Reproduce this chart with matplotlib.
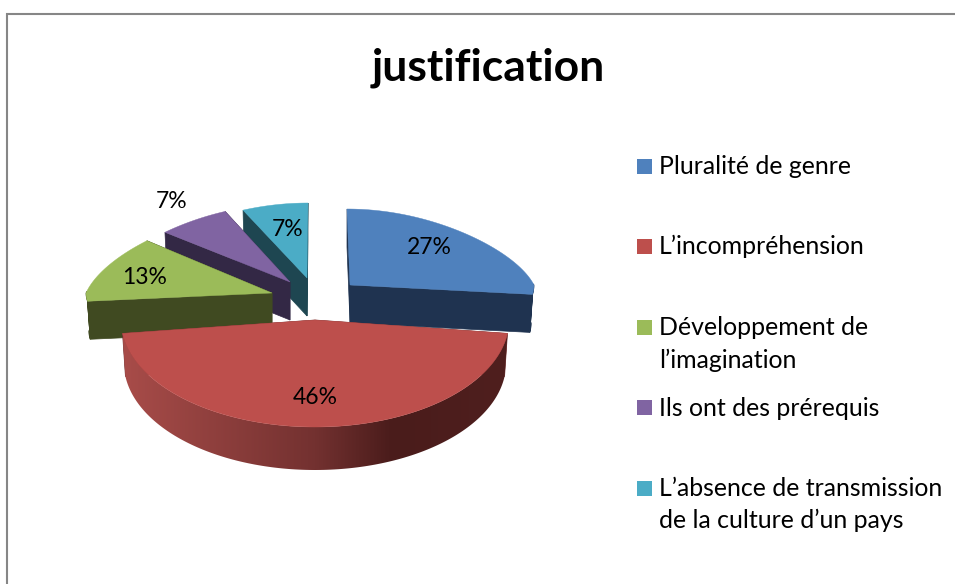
import numpy as np
import matplotlib
matplotlib.use("Agg")
import matplotlib.pyplot as plt
from matplotlib.colors import LinearSegmentedColormap
from matplotlib.patches import Polygon

plt.rcParams["font.family"] = ["Lato", "DejaVu Sans"]

title = "justification"
categories = [
    "Pluralité de genre",
    "L’incompréhension",
    "Développement de\nl’imagination",
    "Ils ont des prérequis",
    "L’absence de transmission\nde la culture d’un pays",
]
shares = [27, 46, 13, 7, 7]

top_colors = ["#4f81bd", "#bd4f4c", "#9bbb59", "#8064a2", "#4bacc6"]
wall_colors = ["#1f3350", "#733130", "#404a21", "#332845", "#1e4651"]

# projection of each exploded slice, in pixels
apex_x = [350, 315, 272, 290, 307]
apex_y = [285, 320, 293, 282, 278]
radius_x = [184, 194, 186, 186, 186]
radius_back = [76, 76, 82, 78, 75]
radius_front = [75, 107, 66, 70, 70]
lean = [-3, 0, 0, 0, 1]
depth = [38, 43, 38, 38, 38]

label_x = [429, 315, 145, 172, 288]
label_y = [248, 398, 278, 202, 229]
legend_y = [166.5, 246.5, 327.5, 407.5, 488.5]
legend_baselines = [[174], [254], [335, 368], [416], [496, 528]]

red_wall = LinearSegmentedColormap.from_list(
    "red_wall",
    [(0, "#a84c49"), (0.5, "#733130"), (0.7, "#4a1c1b"), (1, "#4f1f1e")],
)


def project(i, theta, shrink=1.0):
    """
    Screen position of a rim point of slice i, theta clockwise from the top.
    """
    c = np.cos(theta)
    s = np.sin(theta)
    back = np.maximum(c, 0)
    x = apex_x[i] + shrink * radius_x[i] * s * (1 - 0.2 * back) + lean[i] * back
    y = apex_y[i] - np.where(c > 0, radius_back[i], radius_front[i]) * c
    return x, y


def draw_slice(ax, i, start, stop, z):
    theta = np.linspace(start, stop, 160)
    x, y = project(i, theta)
    x_low, y_low = project(i, theta, shrink=0.985)
    y_low = y_low + depth[i]

    # radial walls on both sides of the slice
    for k in [0, -1]:
        ax.fill(
            [apex_x[i], x[k], x_low[k], apex_x[i]],
            [apex_y[i], y[k], y_low[k], apex_y[i] + depth[i]],
            color=wall_colors[i], lw=0.5, zorder=z,
        )

    # outer wall, only the part that faces the viewer
    front = np.cos(theta) < 0.02
    wall_x = np.r_[x[front], x_low[front][::-1]]
    wall_y = np.r_[y[front], y_low[front][::-1]]
    if categories[i].startswith("L’inc"):
        # the big slice has a shaded wall
        image = ax.imshow(
            np.linspace(0, 1, 256)[None, :], cmap=red_wall, aspect="auto", zorder=z,
            extent=[wall_x.min(), wall_x.max(), wall_y.max(), wall_y.min()],
        )
        image.set_clip_path(Polygon(np.c_[wall_x, wall_y], transform=ax.transData))
    else:
        ax.fill(wall_x, wall_y, color=wall_colors[i], lw=0.5, zorder=z)

    ax.fill(
        np.r_[apex_x[i], x], np.r_[apex_y[i], y],
        color=top_colors[i], lw=0.3, zorder=z + 0.5,
    )


def main():
    fig = plt.figure(figsize=(9.55, 5.84), dpi=100)
    ax = fig.add_axes([0, 0, 1, 1])
    ax.axis("off")

    ax.plot([7, 7, 955], [584, 14, 14], color="#868686", lw=1.5, solid_joinstyle="miter")
    ax.text(488, 68, title, fontsize=32, fontweight="bold", ha="center", va="center", color="black")

    edges = np.r_[0, np.cumsum(shares)] / np.sum(shares) * 2 * np.pi
    # back slices first so the front ones overlap them
    for z, i in enumerate([4, 3, 0, 2, 1]):
        draw_slice(ax, i, edges[i], edges[i + 1], z + 2)

    for i, share in enumerate(shares):
        ax.text(
            label_x[i], label_y[i], f"{share}%", fontsize=16.5,
            ha="center", va="center", color="black", zorder=20,
        )

    for i, name in enumerate(categories):
        ax.fill(
            [637, 652, 652, 637],
            [legend_y[i] - 7.5, legend_y[i] - 7.5, legend_y[i] + 7.5, legend_y[i] + 7.5],
            color=top_colors[i], lw=0,
        )
        for line, base in zip(name.split("\n"), legend_baselines[i]):
            ax.text(659, base, line, fontsize=17.9, ha="left", va="baseline", color="black")

    ax.set_xlim(0, 955)
    ax.set_ylim(584, 0)
    fig.savefig("out.png", dpi=100)


if __name__ == "__main__":
    main()
